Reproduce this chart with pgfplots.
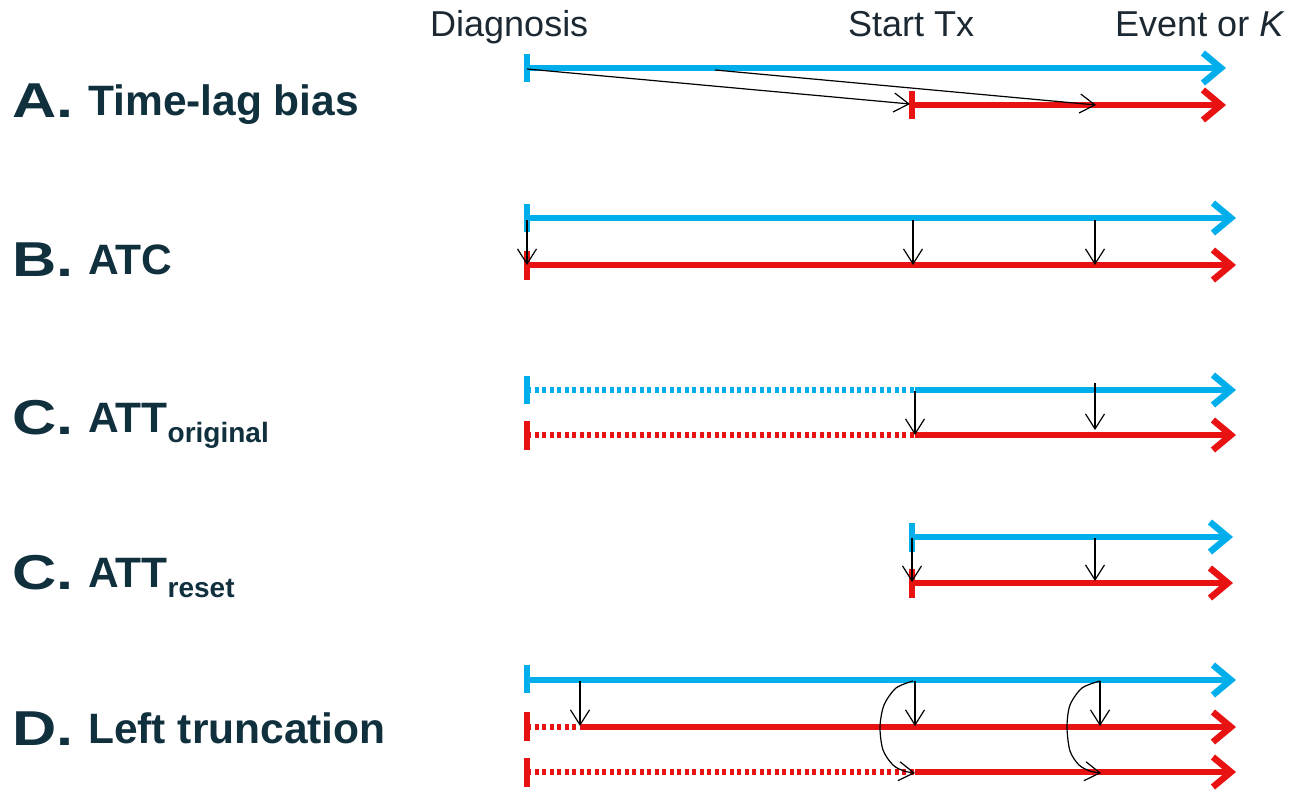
\documentclass[border=0pt]{standalone}
\usepackage{pgfplots}
\pgfplotsset{compat=1.18}
\usepackage{graphicx}
\usepackage{fontspec}
\setmainfont{Liberation Sans}
\usetikzlibrary{arrows.meta}
\definecolor{tblue}{RGB}{0,174,236}
\definecolor{tred}{RGB}{232,18,18}
\definecolor{ttext}{RGB}{16,48,62}
\definecolor{htext}{RGB}{28,40,50}
\begin{document}
\begin{tikzpicture}
\begin{axis}[width=1309bp, height=789bp, scale only axis,
  xmin=0, xmax=1309, ymin=0, ymax=789, y dir=reverse,
  hide axis, clip=false,
  solid/.style={line width=6.5bp},
  dotl/.style={line width=5.5bp, dash pattern=on 4bp off 3.5bp},
  tick/.style={line width=5.5bp},
  big/.style={-{Straight Barb[length=18bp,width=30bp]}, line width=6.5bp},
  thin/.style={black, line width=1.2bp, -{Straight Barb[length=15bp,width=19bp]}},
]
\draw[white, line width=0pt] (axis cs:0,0) rectangle (axis cs:1309,789);
% ---------- Row A
\addplot[tblue, big] coordinates {(527,68) (1226,68)};
\addplot[tblue, tick] coordinates {(527,54) (527,82)};
\addplot[tred, big] coordinates {(912,105) (1226,105)};
\addplot[tred, tick] coordinates {(912,91) (912,119)};
\addplot[thin] coordinates {(527,69) (910,104)};
\addplot[thin] coordinates {(715,70) (1096,105)};
% ---------- Row B
\addplot[tblue, big] coordinates {(527,218) (1236,218)};
\addplot[tblue, tick] coordinates {(527,204) (527,232)};
\addplot[tred, big] coordinates {(527,265) (1236,265)};
\addplot[tred, tick] coordinates {(527,251) (527,280)};
\addplot[thin] coordinates {(527,220) (527,265)};
\addplot[thin] coordinates {(913,220) (913,265)};
\addplot[thin] coordinates {(1095,220) (1095,265)};
% ---------- Row C original
\addplot[tblue, dotl] coordinates {(527,390) (915,390)};
\addplot[tblue, big] coordinates {(915,390) (1236,390)};
\addplot[tblue, tick] coordinates {(527,376) (527,404)};
\addplot[tred, dotl] coordinates {(527,435) (915,435)};
\addplot[tred, big] coordinates {(915,435) (1236,435)};
\addplot[tred, tick] coordinates {(527,421) (527,450)};
\addplot[thin] coordinates {(915,391) (915,435)};
\addplot[thin] coordinates {(1095,383) (1095,430)};
% ---------- Row C reset
\addplot[tblue, big] coordinates {(912,537) (1233,537)};
\addplot[tblue, tick] coordinates {(912,523) (912,552)};
\addplot[tred, big] coordinates {(912,583) (1233,583)};
\addplot[tred, tick] coordinates {(912,569) (912,598)};
\addplot[thin] coordinates {(912,538) (912,582)};
\addplot[thin] coordinates {(1095,538) (1095,581)};
% ---------- Row D
\addplot[tblue, big] coordinates {(527,680) (1236,680)};
\addplot[tblue, tick] coordinates {(527,665) (527,693)};
\addplot[tred, dotl] coordinates {(527,727) (580,727)};
\addplot[tred, big] coordinates {(580,727) (1236,727)};
\addplot[tred, tick] coordinates {(527,712) (527,741)};
\addplot[tred, dotl] coordinates {(527,772) (915,772)};
\addplot[tred, big] coordinates {(915,772) (1236,772)};
\addplot[tred, tick] coordinates {(527,758) (527,787)};
\addplot[thin] coordinates {(580,681) (580,726)};
\addplot[thin] coordinates {(915,681) (915,726)};
\addplot[thin] coordinates {(1100,681) (1100,726)};
\addplot[thin, smooth] coordinates {(913,681) (896,688) (884,705) (880,727) (883,750) (893,765) (904,771) (915,773)};
\addplot[thin, smooth] coordinates {(1100,681) (1082,688) (1070,705) (1067,727) (1070,751) (1079,765) (1090,771) (1101,773)};
% ---------- Header
\node[anchor=base west, htext, inner sep=0pt] at (axis cs:430,37) {\fontsize{36bp}{36bp}\selectfont Diagnosis};
\node[anchor=base west, htext, inner sep=0pt] at (axis cs:848,37) {\fontsize{36bp}{36bp}\selectfont Start Tx};
\node[anchor=base west, htext, inner sep=0pt] at (axis cs:1115,37) {\fontsize{36bp}{36bp}\selectfont Event or \textit{K}};
% ---------- Row labels
\node[anchor=base west, ttext, inner sep=0pt] at (axis cs:12,117) {\fontsize{49bp}{49bp}\selectfont\bfseries\scalebox{1.25}[1]{A.}};
\node[anchor=base west, ttext, inner sep=0pt] at (axis cs:88,115) {\fontsize{42.5bp}{42.5bp}\selectfont\bfseries Time-lag bias};
\node[anchor=base west, ttext, inner sep=0pt] at (axis cs:12,276) {\fontsize{49bp}{49bp}\selectfont\bfseries\scalebox{1.25}[1]{B.}};
\node[anchor=base west, ttext, inner sep=0pt] at (axis cs:88,274) {\fontsize{42.5bp}{42.5bp}\selectfont\bfseries ATC};
\node[anchor=base west, ttext, inner sep=0pt] at (axis cs:12,434) {\fontsize{49bp}{49bp}\selectfont\bfseries\scalebox{1.25}[1]{C.}};
\node[anchor=base west, ttext, inner sep=0pt] at (axis cs:88,432) {\fontsize{42.5bp}{42.5bp}\selectfont\bfseries ATT\raisebox{-10bp}{\fontsize{28bp}{28bp}\selectfont original}};
\node[anchor=base west, ttext, inner sep=0pt] at (axis cs:12,589) {\fontsize{49bp}{49bp}\selectfont\bfseries\scalebox{1.25}[1]{C.}};
\node[anchor=base west, ttext, inner sep=0pt] at (axis cs:88,587) {\fontsize{42.5bp}{42.5bp}\selectfont\bfseries ATT\raisebox{-10bp}{\fontsize{28bp}{28bp}\selectfont reset}};
\node[anchor=base west, ttext, inner sep=0pt] at (axis cs:12,745) {\fontsize{49bp}{49bp}\selectfont\bfseries\scalebox{1.25}[1]{D.}};
\node[anchor=base west, ttext, inner sep=0pt] at (axis cs:88,743) {\fontsize{42.5bp}{42.5bp}\selectfont\bfseries Left truncation};
\end{axis}
\end{tikzpicture}
\end{document}
